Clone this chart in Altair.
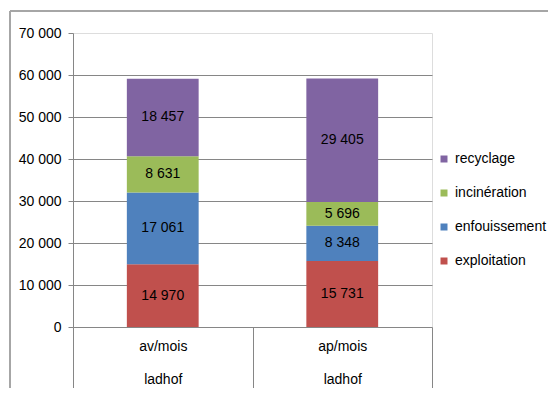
import altair as alt
import pandas as pd

categories = ["av/mois", "ap/mois"]
series = ["exploitation", "enfouissement", "incinération", "recyclage"]
exploitation = [14970, 15731]
enfouissement = [17061, 8348]
incineration = [8631, 5696]
recyclage = [18457, 29405]
legend_order = ["recyclage", "incinération", "enfouissement", "exploitation"]
legend_colors = ["#8064A2", "#9BBB59", "#4F81BD", "#C0504D"]
y_ticks = [0, 10000, 20000, 30000, 40000, 50000, 60000, 70000]

rows = []
for s_i, (name, vals) in enumerate(zip(series, [exploitation, enfouissement, incineration, recyclage])):
    for c_i, cat in enumerate(categories):
        rows.append({"cat": cat, "serie": name, "value": vals[c_i], "ord": s_i})
df = pd.DataFrame(rows)

FONT = "Liberation Sans"
W, H = 359, 294

base = alt.Chart(df)

x_enc = alt.X("cat:N", sort=categories,
              scale=alt.Scale(paddingInner=0, paddingOuter=0),
              axis=alt.Axis(title=None, labelAngle=0, tickBand="extent",
                            tickSize=68, tickColor="#868686", domainColor="#868686",
                            labelExpr="datum.label ? [datum.label, 'ladhof'] : ''",
                            labelLineHeight=33, labelPadding=-56,
                            labelBaseline="top",
                            labelFontSize=14, labelFont=FONT, labelColor="#000000"))

bars = base.mark_bar(width=alt.RelativeBandSize(0.4)).encode(
    x=x_enc,
    y=alt.Y("value:Q", stack="zero",
            scale=alt.Scale(domain=[0, 70000], nice=False),
            axis=alt.Axis(title=None, values=y_ticks, format=",d",
                          tickSize=5, tickColor="#868686", domainColor="#868686",
                          gridColor="#868686",
                          gridOpacity={"condition": {"test": "datum.value === 70000 || datum.value === 0", "value": 0}, "value": 1},
                          labelPadding=7, labelFontSize=14, labelFont=FONT,
                          labelColor="#000000")),
    color=alt.Color("serie:N",
                    scale=alt.Scale(domain=legend_order, range=legend_colors),
                    legend=alt.Legend(title=None, orient="none", legendX=364, legendY=119,
                                      symbolType="square", symbolSize=49,
                                      symbolStrokeWidth=0, rowPadding=20,
                                      labelFontSize=14, labelFont=FONT,
                                      labelColor="#000000", padding=0)),
    order=alt.Order("ord:Q", sort="ascending"),
)

labels = base.transform_stack(
    stack="value", groupby=["cat"], as_=["y0", "y1"], sort=[alt.SortField("ord", order="ascending")]
).transform_calculate(
    mid="(datum.y0 + datum.y1) / 2"
).mark_text(font=FONT, fontSize=14, color="#000000").encode(
    x=alt.X("cat:N", sort=categories),
    y=alt.Y("mid:Q"),
    text=alt.Text("value:Q", format=",d"),
)

border_top = base.mark_rule(color="#A6A6A6", strokeWidth=1.5).encode(
    x=alt.value(-63), x2=alt.value(490), y=alt.value(-22))
border_left = base.mark_rule(color="#A6A6A6", strokeWidth=1.5).encode(
    x=alt.value(-63), y=alt.value(-22), y2=alt.value(360))

chart = alt.layer(bars, labels, border_top, border_left).properties(
    width=W, height=H,
    autosize=alt.AutoSizeParams(type="none"),
    padding={"left": 65, "top": 25, "right": 116, "bottom": 61},
).configure_view(stroke=None).configure(
    locale={"number": {"decimal": ",", "thousands": " ", "grouping": [3], "currency": ["", " €"]}}
)

chart.save("out.html", embed_options={"renderer": "svg", "actions": False})
